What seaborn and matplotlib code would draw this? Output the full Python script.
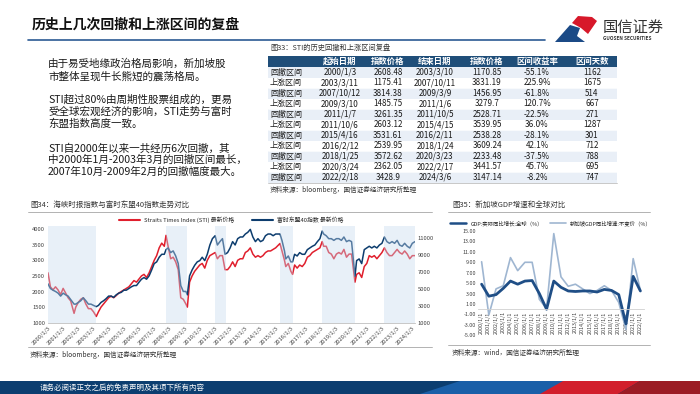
import matplotlib.pyplot as plt
import matplotlib.patches as mpatches
from matplotlib.lines import Line2D
import seaborn as sns
import pandas as pd
import numpy as np

sns.set_style('white')
plt.rcParams['font.family'] = ['Noto Sans CJK SC', 'DejaVu Sans']
plt.rcParams['axes.unicode_minus'] = False

RED = '#e01f2d'
NAVY = '#0d3d6e'
HEAD = '#1f4e79'
TXT = '#1a1a1a'

# ---- table data (图33)
row_types = ['回撤区间', '上涨区间', '回撤区间', '上涨区间', '回撤区间', '上涨区间',
             '回撤区间', '上涨区间', '回撤区间', '上涨区间', '回撤区间']
start_dates = ['2000/1/3', '2003/3/11', '2007/10/12', '2009/3/10', '2011/1/7', '2011/10/6',
               '2015/4/16', '2016/2/12', '2018/1/25', '2020/3/24', '2022/2/18']
start_prices = ['2608.48', '1175.41', '3814.38', '1485.75', '3261.35', '2603.12',
                '3531.61', '2539.95', '3572.62', '2362.05', '3428.9']
end_dates = ['2003/3/10', '2007/10/11', '2009/3/9', '2011/1/6', '2011/10/5', '2015/4/15',
             '2016/2/11', '2018/1/24', '2020/3/23', '2022/2/17', '2024/3/6']
end_prices = ['1170.85', '3831.19', '1456.95', '3279.7', '2528.71', '3539.95',
              '2538.28', '3609.24', '2233.48', '3441.57', '3147.14']
returns = ['-55.1%', '225.9%', '-61.8%', '120.7%', '-22.5%', '36.0%',
           '-28.1%', '42.1%', '-37.5%', '45.7%', '-8.2%']
days = ['1162', '1675', '514', '667', '271', '1287', '301', '712', '788', '695', '747']
headers = ['', '起始日期', '指数价格', '结束日期', '指数价格', '区间收益率', '区间天数']

# ---- index data (图34)
idx_dates = [
    '2000-01-03', '2000-03-01', '2000-05-01', '2000-07-01', '2000-09-01', '2000-11-01',
    '2001-01-01', '2001-03-01', '2001-05-01', '2001-07-01', '2001-09-21', '2001-11-01',
    '2002-01-01', '2002-03-01', '2002-05-01', '2002-07-01', '2002-09-01', '2002-11-01',
    '2003-01-01', '2003-03-10', '2003-05-01', '2003-07-01', '2003-09-01', '2003-11-01',
    '2004-01-01', '2004-03-01', '2004-05-01', '2004-07-01', '2004-09-01', '2004-11-01',
    '2005-01-01', '2005-03-01', '2005-05-01', '2005-07-01', '2005-09-01', '2005-11-01',
    '2006-01-01', '2006-03-01', '2006-05-01', '2006-07-01', '2006-09-01', '2006-11-01',
    '2007-01-01', '2007-03-01', '2007-05-01', '2007-07-01', '2007-09-01', '2007-10-12',
    '2007-12-01', '2008-02-01', '2008-04-01', '2008-06-01', '2008-08-01', '2008-10-01',
    '2008-12-01', '2009-02-01', '2009-03-09', '2009-05-01', '2009-07-01', '2009-09-01',
    '2009-11-01', '2010-01-01', '2010-03-01', '2010-05-01', '2010-07-01', '2010-09-01',
    '2010-11-01', '2011-01-06', '2011-03-01', '2011-05-01', '2011-07-01', '2011-09-01',
    '2011-11-01', '2012-01-01', '2012-03-01', '2012-05-01', '2012-07-01', '2012-09-01',
    '2012-11-01', '2013-01-01', '2013-03-01', '2013-05-01', '2013-07-01', '2013-09-01',
    '2013-11-01', '2014-01-01', '2014-03-01', '2014-05-01', '2014-07-01', '2014-09-01',
    '2014-11-01', '2015-01-01', '2015-04-15', '2015-06-01', '2015-08-01', '2015-09-01',
    '2015-11-01', '2016-01-01', '2016-02-11', '2016-04-01', '2016-06-01', '2016-08-01',
    '2016-10-01', '2016-12-01', '2017-02-01', '2017-04-01', '2017-06-01', '2017-08-01',
    '2017-10-01', '2017-12-01', '2018-01-24', '2018-03-01', '2018-05-01', '2018-07-01',
    '2018-09-01', '2018-11-01', '2019-01-01', '2019-03-01', '2019-05-01', '2019-07-01',
    '2019-09-01', '2019-11-01', '2020-01-01', '2020-03-23', '2020-05-01', '2020-07-01',
    '2020-09-01', '2020-11-01', '2021-01-01', '2021-03-01', '2021-05-01', '2021-07-01',
    '2021-09-01', '2021-11-01', '2022-01-01', '2022-03-01', '2022-05-01', '2022-07-01',
    '2022-09-01', '2022-11-01', '2023-01-01', '2023-03-01', '2023-05-01', '2023-07-01',
    '2023-09-01', '2023-11-01', '2024-01-01', '2024-03-06']
sti = [
    2600, 2150, 2050, 2150, 2050, 1900, 2100, 1950, 1800, 1700, 1300, 1500,
    1650, 1750, 1800, 1600, 1450, 1450, 1350, 1200, 1350, 1500, 1600, 1700,
    1800, 1850, 1800, 1870, 1950, 2000, 2050, 2100, 2150, 2250, 2350, 2300,
    2400, 2500, 2550, 2450, 2600, 2800, 3000, 3150, 3400, 3550, 3450, 3800,
    3450, 3050, 3100, 2950, 2700, 1800, 1750, 1600, 1500, 2300, 2500, 2650,
    2750, 2850, 2900, 2750, 3000, 3150, 3200, 3250, 3050, 3150, 3150, 2700,
    2700, 2800, 2950, 2800, 3000, 3050, 3050, 3250, 3300, 3400, 3200, 3100,
    3150, 3100, 3150, 3250, 3300, 3300, 3350, 3400, 3540, 3300, 3000, 2800,
    2900, 2650, 2550, 2850, 2750, 2850, 2800, 2900, 3100, 3150, 3250, 3300,
    3350, 3400, 3600, 3450, 3450, 3250, 3200, 3050, 3200, 3250, 3200, 3350,
    3100, 3200, 3200, 2300, 2550, 2600, 2450, 2800, 2900, 3150, 3100, 3150,
    3050, 3150, 3250, 3400, 3250, 3150, 3150, 3250, 3350, 3250, 3200, 3300,
    3200, 3050, 3150, 3150]
asean40 = [
    5600, 5050, 4850, 4700, 4500, 4150, 4500, 4300, 4150, 3750, 3200, 3200,
    3400, 3600, 3950, 3600, 3200, 3200, 3050, 2900, 3050, 3400, 3600, 3850,
    4150, 4150, 4000, 4300, 4500, 4600, 4850, 4850, 5050, 5250, 5400, 5400,
    5800, 6150, 6350, 6150, 6550, 7250, 8000, 8200, 8750, 9100, 9100, 9650,
    9850, 9300, 9500, 8900, 8000, 5400, 4700, 4700, 4300, 6550, 7250, 7800,
    8200, 8350, 8750, 8350, 9100, 10200, 10950, 11300, 10200, 10600, 10950, 9100,
    9300, 9850, 10600, 10200, 10950, 11150, 11150, 11500, 11700, 12050, 11150, 10600,
    10950, 10600, 10750, 11300, 11500, 11500, 11300, 11500, 11500, 10750, 9500, 8550,
    8900, 8200, 8200, 9100, 8900, 9300, 9100, 9100, 9650, 9850, 10050, 10200,
    10600, 10950, 11850, 11500, 11300, 10950, 10950, 10750, 10950, 10950, 10750, 11150,
    10600, 10750, 10600, 6500, 8350, 8550, 8000, 9650, 9850, 10050, 9850, 10050,
    9850, 10200, 10400, 11150, 10600, 10400, 10600, 10400, 10750, 10200, 10050, 10400,
    10050, 9850, 10400, 10600]
idx_ticks = [f'{y}/1/3' for y in range(2000, 2025)]

# ---- GDP data (图35)
gdp_years = [f'{y}/1/1' for y in range(2000, 2023)]
world_gdp = [4.8, 2.5, 2.8, 4.0, 5.4, 4.8, 5.4, 5.5, 3.0, 0.0, 5.4, 4.2,
             3.5, 3.4, 3.5, 3.5, 3.3, 3.8, 3.6, 2.8, -2.8, 6.3, 3.5]
sg_gdp = [9.1, -1.1, 3.9, 4.5, 9.9, 7.4, 9.0, 9.0, 1.9, 0.1, 14.5, 6.2,
          4.4, 4.8, 3.9, 3.0, 3.6, 4.5, 3.6, 1.3, -3.9, 9.7, 3.6]

paragraphs = [
    ['由于易受地缘政治格局影响，新加坡股', '市整体呈现牛长熊短的震荡格局。'],
    ['STI超过80%由周期性股票组成的，更易', '受全球宏观经济的影响，STI走势与富时', '东盟指数高度一致。'],
    ['STI自2000年以来一共经历6次回撤，其', '中2000年1月-2003年3月的回撤区间最长，', '2007年10月-2009年2月的回撤幅度最大。'],
]

W, H = 700, 394
fig = plt.figure(figsize=(7, 3.94), dpi=100)
bg = fig.add_axes([0, 0, 1, 1])
bg.set_xlim(0, W)
bg.set_ylim(H, 0)
bg.axis('off')


def px_axes(x0, y0, x1, y1):
    return fig.add_axes([x0 / W, 1 - y1 / H, (x1 - x0) / W, (y1 - y0) / H])


# header
bg.text(32, 25, '历史上几次回撤和上涨区间的复盘', fontsize=10, fontweight='bold',
        color='#111111', va='center')
bg.plot([28, 545], [40, 40], color='#2b5a94', lw=1.2)
bg.add_patch(mpatches.Polygon([(555, 42), (570, 25), (580, 28), (577, 36), (585, 42)],
                              closed=True, color='#1b4a86', lw=0))
bg.add_patch(mpatches.Polygon([(572, 23), (578, 16), (592, 17), (597, 21), (588, 34), (581, 28)],
                              closed=True, color='#d7182a', lw=0))
bg.text(603, 27, '国信证券', fontsize=11, color='#333333', va='center')
bg.text(603, 38, 'GUOSEN SECURITIES', fontsize=3.4, color='#333333', va='center',
        fontweight='bold')

# left text
y = 64
for para in paragraphs:
    for line in para:
        bg.text(48, y, line, fontsize=7.6, color=TXT, va='center')
        y += 12
    y += 12

# table 33
bg.text(270, 48, '图33：STI的历史回撤和上涨区间复盘', fontsize=5.2, color='#333333', va='center')
col_x = [270, 340, 388, 435, 487, 537, 592]
tx0, tx1 = 268, 617
bg.add_patch(mpatches.Rectangle((tx0, 56), tx1 - tx0, 11, color=HEAD, lw=0))
for j, h in enumerate(headers):
    if h:
        bg.text(col_x[j], 61.5, h, fontsize=6, color='white', ha='center', va='center',
                fontweight='bold')
row_h = 10.5
for i in range(len(row_types)):
    top = 67 + i * row_h
    fc = '#e9eff7' if i % 2 == 0 else 'white'
    bg.add_patch(mpatches.Rectangle((tx0, top), tx1 - tx0, row_h, color=fc, lw=0))
    bg.plot([tx0, tx1], [top + row_h, top + row_h], color='white', lw=0.5)
    cy = top + row_h / 2
    vals = [row_types[i], start_dates[i], start_prices[i], end_dates[i],
            end_prices[i], returns[i], days[i]]
    for j, v in enumerate(vals):
        bg.text(col_x[j], cy, v, fontsize=5.8, color=TXT, va='center',
                ha='left' if j == 0 else 'center')
bg.plot([tx0, tx1], [67 + 11 * row_h, 67 + 11 * row_h], color='#bfbfbf', lw=0.6)
bg.text(270, 190, '资料来源：bloomberg，国信证券经济研究所整理', fontsize=4.8,
        color='#333333', va='center')

# chart 34
bg.text(30, 205, '图34：海峡时报指数与富时东盟40指数走势对比', fontsize=5.4,
        color='#333333', va='center')
bg.plot([28, 432], [212, 212], color='#a6a6a6', lw=0.6)
bg.plot([28, 432], [347, 347], color='#a6a6a6', lw=0.6)
bg.text(30, 355, '资料来源：bloomberg，国信证券经济研究所整理', fontsize=4.8,
        color='#333333', va='center')

df = pd.DataFrame({'date': pd.to_datetime(idx_dates), 'sti': sti, 'asean': asean40})
ax = px_axes(48, 226, 415, 322.7)
sns.lineplot(data=df, x='date', y='sti', ax=ax, color=RED, lw=1.1)
ax2 = ax.twinx()
sns.lineplot(data=df, x='date', y='asean', ax=ax2, color=NAVY, lw=1.1)
ax.set_ylim(1000, 4100)
ax2.set_ylim(1000, 12450)
ax.set_yticks(range(1000, 4001, 500))
ax2.set_yticks(range(1000, 11001, 2000))
ax.set_xlim(pd.Timestamp('2000-01-03'), pd.Timestamp('2024-03-06'))
for a in (ax, ax2):
    a.set_xlabel('')
    a.set_ylabel('')
    for s in a.spines.values():
        s.set_visible(False)
ax.spines['bottom'].set_visible(True)
ax.spines['bottom'].set_color('#bfbfbf')
ax.spines['bottom'].set_linewidth(0.6)
ax.set_xticks(pd.to_datetime(idx_ticks, format='%Y/%m/%d'))
ax.set_xticklabels(idx_ticks, rotation=45, ha='right', rotation_mode='anchor')
for a in (ax, ax2):
    a.tick_params(length=0, labelsize=4.2, colors='#404040', pad=2)

for t, s, e in zip(row_types, start_dates, end_dates):
    if t == '回撤区间':
        ax2.axvspan(pd.to_datetime(s, format='%Y/%m/%d'), pd.to_datetime(e, format='%Y/%m/%d'),
                    color='#c6daef', alpha=0.4, lw=0, zorder=5)

handles = [Line2D([], [], color=RED, lw=1.5), Line2D([], [], color=NAVY, lw=1.5)]
ax2.legend(handles, ['Straits Times Index (STI) 最新价格', '富时东盟40指数 最新价格'],
           loc='lower center', bbox_to_anchor=(0.5, 0.99), ncol=2, frameon=False,
           fontsize=4.2, handlelength=3.5, columnspacing=3, borderpad=0.2)

# chart 35
bg.text(452, 205, '图35：新加坡GDP增速和全球对比', fontsize=5.4, color='#333333', va='center')
bg.plot([448, 650], [212, 212], color='#a6a6a6', lw=0.6)
bg.plot([448, 650], [345, 345], color='#a6a6a6', lw=0.6)
bg.text(452, 353, '资料来源：wind，国信证券经济研究所整理', fontsize=4.8,
        color='#333333', va='center')

gx = px_axes(478, 231, 644, 335.3)
pos = np.arange(len(gdp_years))
sns.lineplot(x=pos, y=sg_gdp, ax=gx, color='#9fb6d1', lw=1.2)
sns.lineplot(x=pos, y=world_gdp, ax=gx, color='#1f4e86', lw=2.0)
for s in gx.spines.values():
    s.set_visible(False)
gx.spines['bottom'].set_visible(True)
gx.spines['bottom'].set_position(('data', 0))
gx.spines['bottom'].set_color('#d0d0d0')
gx.spines['bottom'].set_linewidth(0.6)
gx.set_xlim(-0.5, len(gdp_years) - 0.5)
gx.set_ylim(-5, 15)
gx.set_yticks(range(-5, 16, 2))
gx.set_yticklabels([f'{v:.2f}' for v in range(-5, 16, 2)])
gx.set_xticks(pos)
gx.set_xticklabels(gdp_years)
gx.tick_params(length=0, labelsize=3.9, colors='#404040', pad=1.5)
gx.tick_params(axis='x', labelrotation=90)
for lab in gx.get_xticklabels():
    lab.set_va('top')
gh = [Line2D([], [], color='#1f4e86', lw=1.8), Line2D([], [], color='#9fb6d1', lw=1.2)]
gx.legend(gh, ['GDP:实际同比增长:全球（%）', '新加坡GDP同比增速:不变价（%）'],
          loc='lower center', bbox_to_anchor=(0.44, 1.01), ncol=2, frameon=False,
          fontsize=3.9, handlelength=3, columnspacing=1.2, borderpad=0.2)

# footer
bg.add_patch(mpatches.Rectangle((0, 381), W, 13, color='#0c3e70', lw=0))
bg.add_patch(mpatches.Polygon([(420, 394), (460, 381), (565, 381), (545, 394)],
                              closed=True, color='#1a5fa8', lw=0))
bg.add_patch(mpatches.Polygon([(540, 394), (563, 381), (640, 381), (618, 394)],
                              closed=True, color='#d21f2c', lw=0))
bg.add_patch(mpatches.Polygon([(618, 394), (640, 381), (W, 381), (W, 394)],
                              closed=True, color='#9b1c24', lw=0))
bg.text(40, 388, '请务必阅读正文之后的免责声明及其项下所有内容', fontsize=5.4,
        color='white', va='center')

fig.savefig('out.png', dpi=100)
